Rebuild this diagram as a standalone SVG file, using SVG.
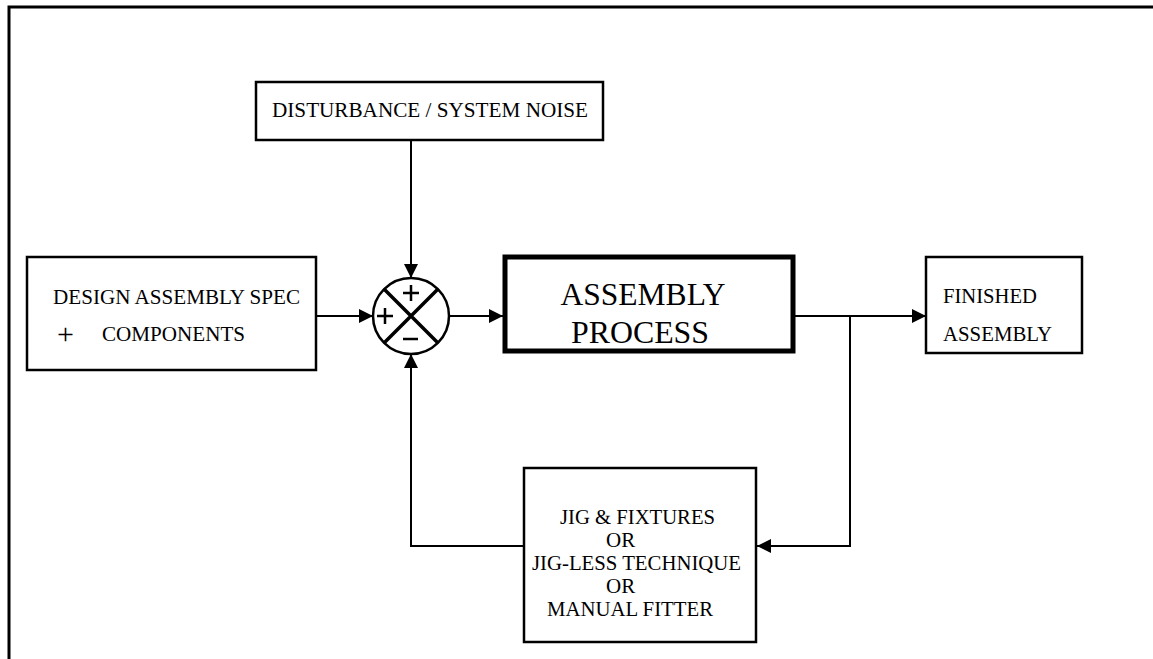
<svg xmlns="http://www.w3.org/2000/svg" width="1153" height="659" viewBox="0 0 1153 659">
<defs>
<style>
.box{fill:#fff;stroke:#000;stroke-width:2.5}
.thick{fill:#fff;stroke:#000;stroke-width:5}
.ln{fill:none;stroke:#000;stroke-width:2}
.t{font-family:"Liberation Serif","Times New Roman",serif;font-size:21px;fill:#000}
.plus{font-family:"Liberation Serif","Times New Roman",serif;font-size:30px;fill:#000}
.big{font-family:"Liberation Serif","Times New Roman",serif;font-size:32px;fill:#000}
</style>
<marker id="arr" markerUnits="userSpaceOnUse" markerWidth="14" markerHeight="14" viewBox="0 0 14 14" refX="14" refY="7" orient="auto">
<path d="M0,0 L14,7 L0,14 Z" fill="#000"/>
</marker>
</defs>
<rect width="1153" height="659" fill="#fff"/>
<g id="frame">
<path d="M9,659 L9,7 L1153,7" fill="none" stroke="#000" stroke-width="3"/>
</g>
<g id="connectors">
<path class="ln" d="M411,140 L411,278" marker-end="url(#arr)"/>
<path class="ln" d="M316,316 L373,316" marker-end="url(#arr)"/>
<path class="ln" d="M449,316 L503,316" marker-end="url(#arr)"/>
<path class="ln" d="M795,316 L926,316" marker-end="url(#arr)"/>
<path class="ln" d="M850,316 L850,546 L757,546" marker-end="url(#arr)"/>
<path class="ln" d="M524,546 L411,546 L411,354" marker-end="url(#arr)"/>
</g>
<g id="disturbance">
<rect class="box" x="256" y="82" width="347" height="58"/>
<text class="t" x="430" y="117" text-anchor="middle" textLength="316" lengthAdjust="spacingAndGlyphs">DISTURBANCE / SYSTEM  NOISE</text>
</g>
<g id="design">
<rect class="box" x="27" y="257" width="289" height="113"/>
<text class="t" x="53" y="304" textLength="247" lengthAdjust="spacingAndGlyphs">DESIGN ASSEMBLY SPEC</text>
<text class="plus" x="57" y="344">+</text>
<text class="t" x="102" y="341" textLength="143" lengthAdjust="spacingAndGlyphs">COMPONENTS</text>
</g>
<g id="summing">
<circle cx="411" cy="316" r="38" fill="#fff" stroke="#000" stroke-width="2.5"/>
<path d="M384,289 L438,343 M438,289 L384,343" stroke="#000" stroke-width="3.5" fill="none"/>
<path d="M411,285 L411,301 M403,293 L419,293" stroke="#000" stroke-width="2.5"/>
<path d="M385,308 L385,324 M377,316 L393,316" stroke="#000" stroke-width="2.5"/>
<path d="M403,339 L418,339" stroke="#000" stroke-width="2.5"/>
</g>
<g id="assembly">
<rect class="thick" x="505" y="257" width="288" height="94"/>
<text class="big" x="643" y="305" text-anchor="middle" textLength="165" lengthAdjust="spacingAndGlyphs">ASSEMBLY</text>
<text class="big" x="640" y="343" text-anchor="middle" textLength="138" lengthAdjust="spacingAndGlyphs">PROCESS</text>
</g>
<g id="finished">
<rect class="box" x="926" y="257" width="156" height="96"/>
<text class="t" x="943" y="303" textLength="94" lengthAdjust="spacingAndGlyphs">FINISHED</text>
<text class="t" x="943" y="341" textLength="109" lengthAdjust="spacingAndGlyphs">ASSEMBLY</text>
</g>
<g id="jig">
<rect class="box" x="524" y="468" width="232" height="174"/>
<text class="t" x="560" y="524" textLength="155" lengthAdjust="spacingAndGlyphs">JIG &amp; FIXTURES</text>
<text class="t" x="606" y="547">OR</text>
<text class="t" x="532" y="570" textLength="209" lengthAdjust="spacingAndGlyphs">JIG-LESS TECHNIQUE</text>
<text class="t" x="606" y="593">OR</text>
<text class="t" x="547" y="616" textLength="166" lengthAdjust="spacingAndGlyphs">MANUAL FITTER</text>
</g>
</svg>
